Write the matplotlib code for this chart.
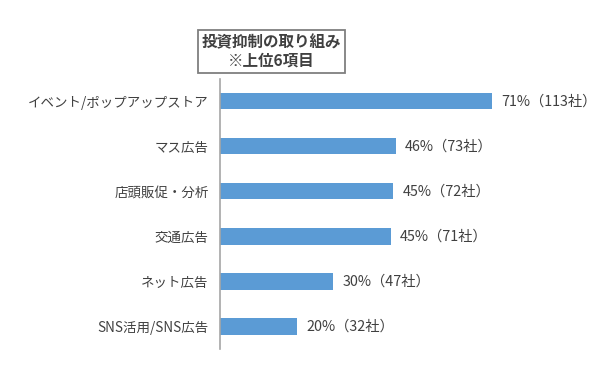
import matplotlib
matplotlib.use("Agg")
import matplotlib.pyplot as plt

plt.rcParams['font.family'] = ['Noto Sans CJK JP', 'DejaVu Sans']

# data (top to bottom)
categories = ['イベント/ポップアップストア', 'マス広告', '店頭販促・分析',
              '交通広告', 'ネット広告', 'SNS活用/SNS広告']
percents = [71, 46, 45, 45, 30, 20]
companies = [113, 73, 72, 71, 47, 32]

bar_color = '#5B9BD5'
text_color = '#404040'

fig = plt.figure(figsize=(6.0, 3.65), dpi=100)
ax = fig.add_axes([0.3667, 0.044, 0.613, 0.740])

y = list(range(len(categories)))
ax.barh(y, companies, height=0.36, color=bar_color)
ax.set_ylim(len(categories) - 0.5, -0.5)
ax.set_xlim(0, 152.7)

for yi, p, c in zip(y, percents, companies):
    ax.text(c + 3.7, yi, f'{p}%（{c}社）', va='center', ha='left',
            fontsize=10.3, color=text_color)

ax.set_yticks(y)
ax.set_yticklabels(categories, fontsize=9.7, color=text_color)
ax.tick_params(axis='y', length=0, pad=8)
ax.set_xticks([])
for s in ['top', 'right', 'bottom']:
    ax.spines[s].set_visible(False)
ax.spines['left'].set_color('#a6a6a6')
ax.spines['left'].set_linewidth(1.2)

fig.text(0.4525, 0.859, '投資抑制の取り組み\n※上位6項目', ha='center', va='center',
         fontsize=11.2, fontweight='bold', color=text_color, linespacing=1.2,
         bbox=dict(boxstyle='square,pad=0.25', facecolor='white',
                   edgecolor='#7f7f7f', linewidth=1.3))

fig.savefig('out.png', dpi=100)
